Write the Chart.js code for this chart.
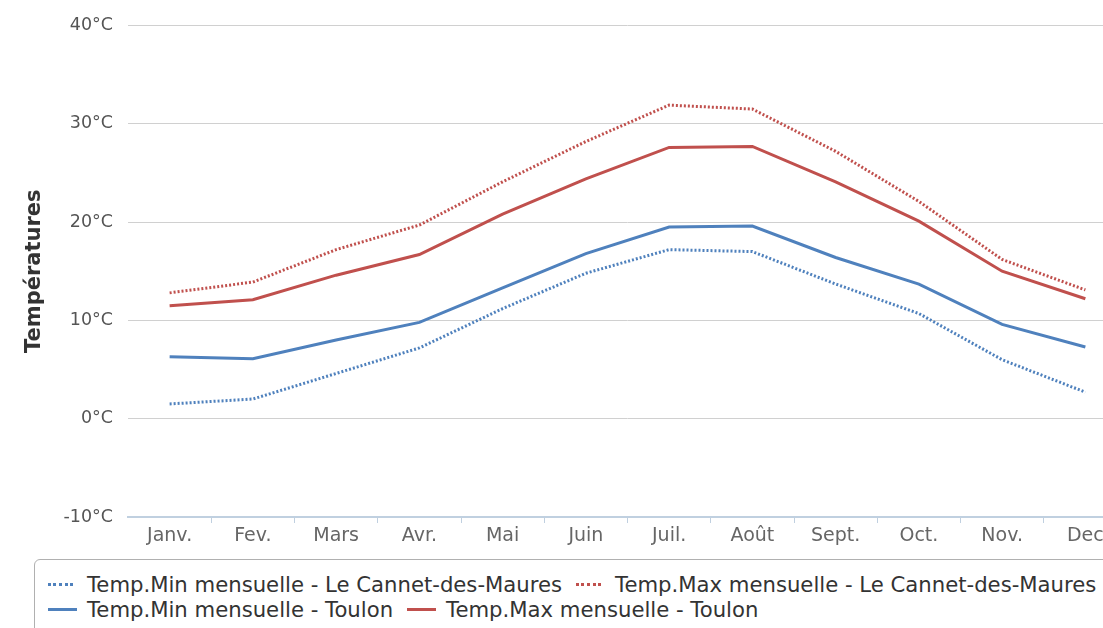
<!DOCTYPE html>
<html>
<head>
<meta charset="utf-8">
<script src="https://cdn.jsdelivr.net/npm/chart.js@4.4.0/dist/chart.umd.min.js"></script>
<style>
  html, body { margin: 0; padding: 0; background: #fff; overflow: hidden; }
  body { width: 1103px; height: 628px; position: relative; font-family: "DejaVu Sans", sans-serif; }
  #wrap { position: absolute; left: 0; top: 0; width: 1130px; height: 556px; }
  #legend { position: absolute; left: 34px; top: 559px; width: 1100px; height: 100px;
    border: 1px solid #b0b0b0; border-radius: 6px; box-sizing: border-box; }
  .row { position: absolute; left: 13px; display: flex; align-items: center; white-space: nowrap;
    height: 25px; font-size: 21.2px; color: #333; }
  .item { display: flex; align-items: center; margin-right: 14px; }
  .sample { width: 39px; height: 25px; position: relative; }
  .sample span { position: absolute; left: 0; top: 11px; }
</style>
</head>
<body>
<div id="wrap"><canvas id="myChart"></canvas></div>
<div id="legend"></div>
<script>
const months = ["Janv.", "Fev.", "Mars", "Avr.", "Mai", "Juin", "Juil.", "Août", "Sept.", "Oct.", "Nov.", "Dec"];
const minCannet = [1.5, 2.0, 4.6, 7.2, 11.2, 14.8, 17.2, 17.0, 13.7, 10.7, 6.0, 2.7];
const maxCannet = [12.8, 13.9, 17.2, 19.7, 24.1, 28.2, 31.9, 31.5, 27.2, 22.1, 16.2, 13.1];
const minToulon = [6.3, 6.1, 8.0, 9.8, 13.3, 16.8, 19.5, 19.6, 16.4, 13.7, 9.6, 7.3];
const maxToulon = [11.5, 12.1, 14.6, 16.7, 20.8, 24.4, 27.6, 27.7, 24.1, 20.1, 15.0, 12.2];
const yMin = -10;
const yMax = 40;
const yStep = 10;

const blue = "#4f81bd";
const red = "#c0504d";

const ctx = document.getElementById("myChart").getContext("2d");

function lineSet(label, data, color, dotted) {
  return {
    label: label,
    data: data,
    borderColor: color,
    backgroundColor: color,
    borderWidth: 3,
    borderDash: dotted ? [2, 2] : [],
    pointRadius: 0,
    tension: 0,
    fill: false,
  };
}

const chart = new Chart(ctx, {
  type: "line",
  data: {
    labels: months,
    datasets: [
      lineSet("Temp.Min mensuelle - Le Cannet-des-Maures", minCannet, blue, true),
      lineSet("Temp.Max mensuelle - Le Cannet-des-Maures", maxCannet, red, true),
      lineSet("Temp.Min mensuelle - Toulon", minToulon, blue, false),
      lineSet("Temp.Max mensuelle - Toulon", maxToulon, red, false),
    ],
  },
  options: {
    responsive: true,
    maintainAspectRatio: false,
    animation: false,
    layout: { padding: { top: 24, right: 3, left: 0, bottom: 0 } },
    plugins: { legend: { display: false }, tooltip: { enabled: false } },
    scales: {
      x: {
        offset: true,
        grid: {
          offset: true,
          drawOnChartArea: false,
          drawTicks: true,
          tickLength: 6,
          color: (c) => (c.index === 0 ? "rgba(0,0,0,0)" : "#c0d0e0"),
        },
        border: { display: true, color: "#c0d0e0", width: 2 },
        ticks: {
          padding: 2,
          color: "#666",
          font: { family: "DejaVu Sans", size: 19 },
          maxRotation: 0,
          autoSkip: false,
        },
        afterFit: (s) => { s.height = 39; },
      },
      y: {
        min: yMin,
        max: yMax,
        ticks: {
          stepSize: yStep,
          padding: 15,
          color: "#555",
          font: { family: "DejaVu Sans", size: 17.5 },
          callback: (v) => v + "°C",
        },
        grid: {
          drawTicks: false,
          color: (c) => (c.tick && c.tick.value === yMin ? "rgba(0,0,0,0)" : "#d0d0d0"),
        },
        border: { display: false },
        title: {
          display: true,
          text: "Températures",
          color: "#333",
          font: { family: "DejaVu Sans", size: 21, weight: "bold" },
          padding: { top: 22, bottom: 0 },
        },
        afterFit: (s) => { s.width = 128; },
      },
    },
  },
});

// html legend, two items per row
const legend = document.getElementById("legend");
const sets = chart.data.datasets;
for (let r = 0; r < sets.length / 2; r++) {
  const row = document.createElement("div");
  row.className = "row";
  row.style.top = 12 + r * 25 + "px";
  for (let k = 0; k < 2; k++) {
    const ds = sets[r * 2 + k];
    const item = document.createElement("div");
    item.className = "item";
    const sample = document.createElement("div");
    sample.className = "sample";
    const ln = document.createElement("span");
    const dotted = ds.borderDash.length > 0;
    ln.style.width = dotted ? "25px" : "29px";
    ln.style.borderTop = "3px " + (dotted ? "dotted " : "solid ") + ds.borderColor;
    sample.appendChild(ln);
    const txt = document.createElement("span");
    txt.textContent = ds.label;
    item.appendChild(sample);
    item.appendChild(txt);
    row.appendChild(item);
  }
  legend.appendChild(row);
}
</script>
</body>
</html>
